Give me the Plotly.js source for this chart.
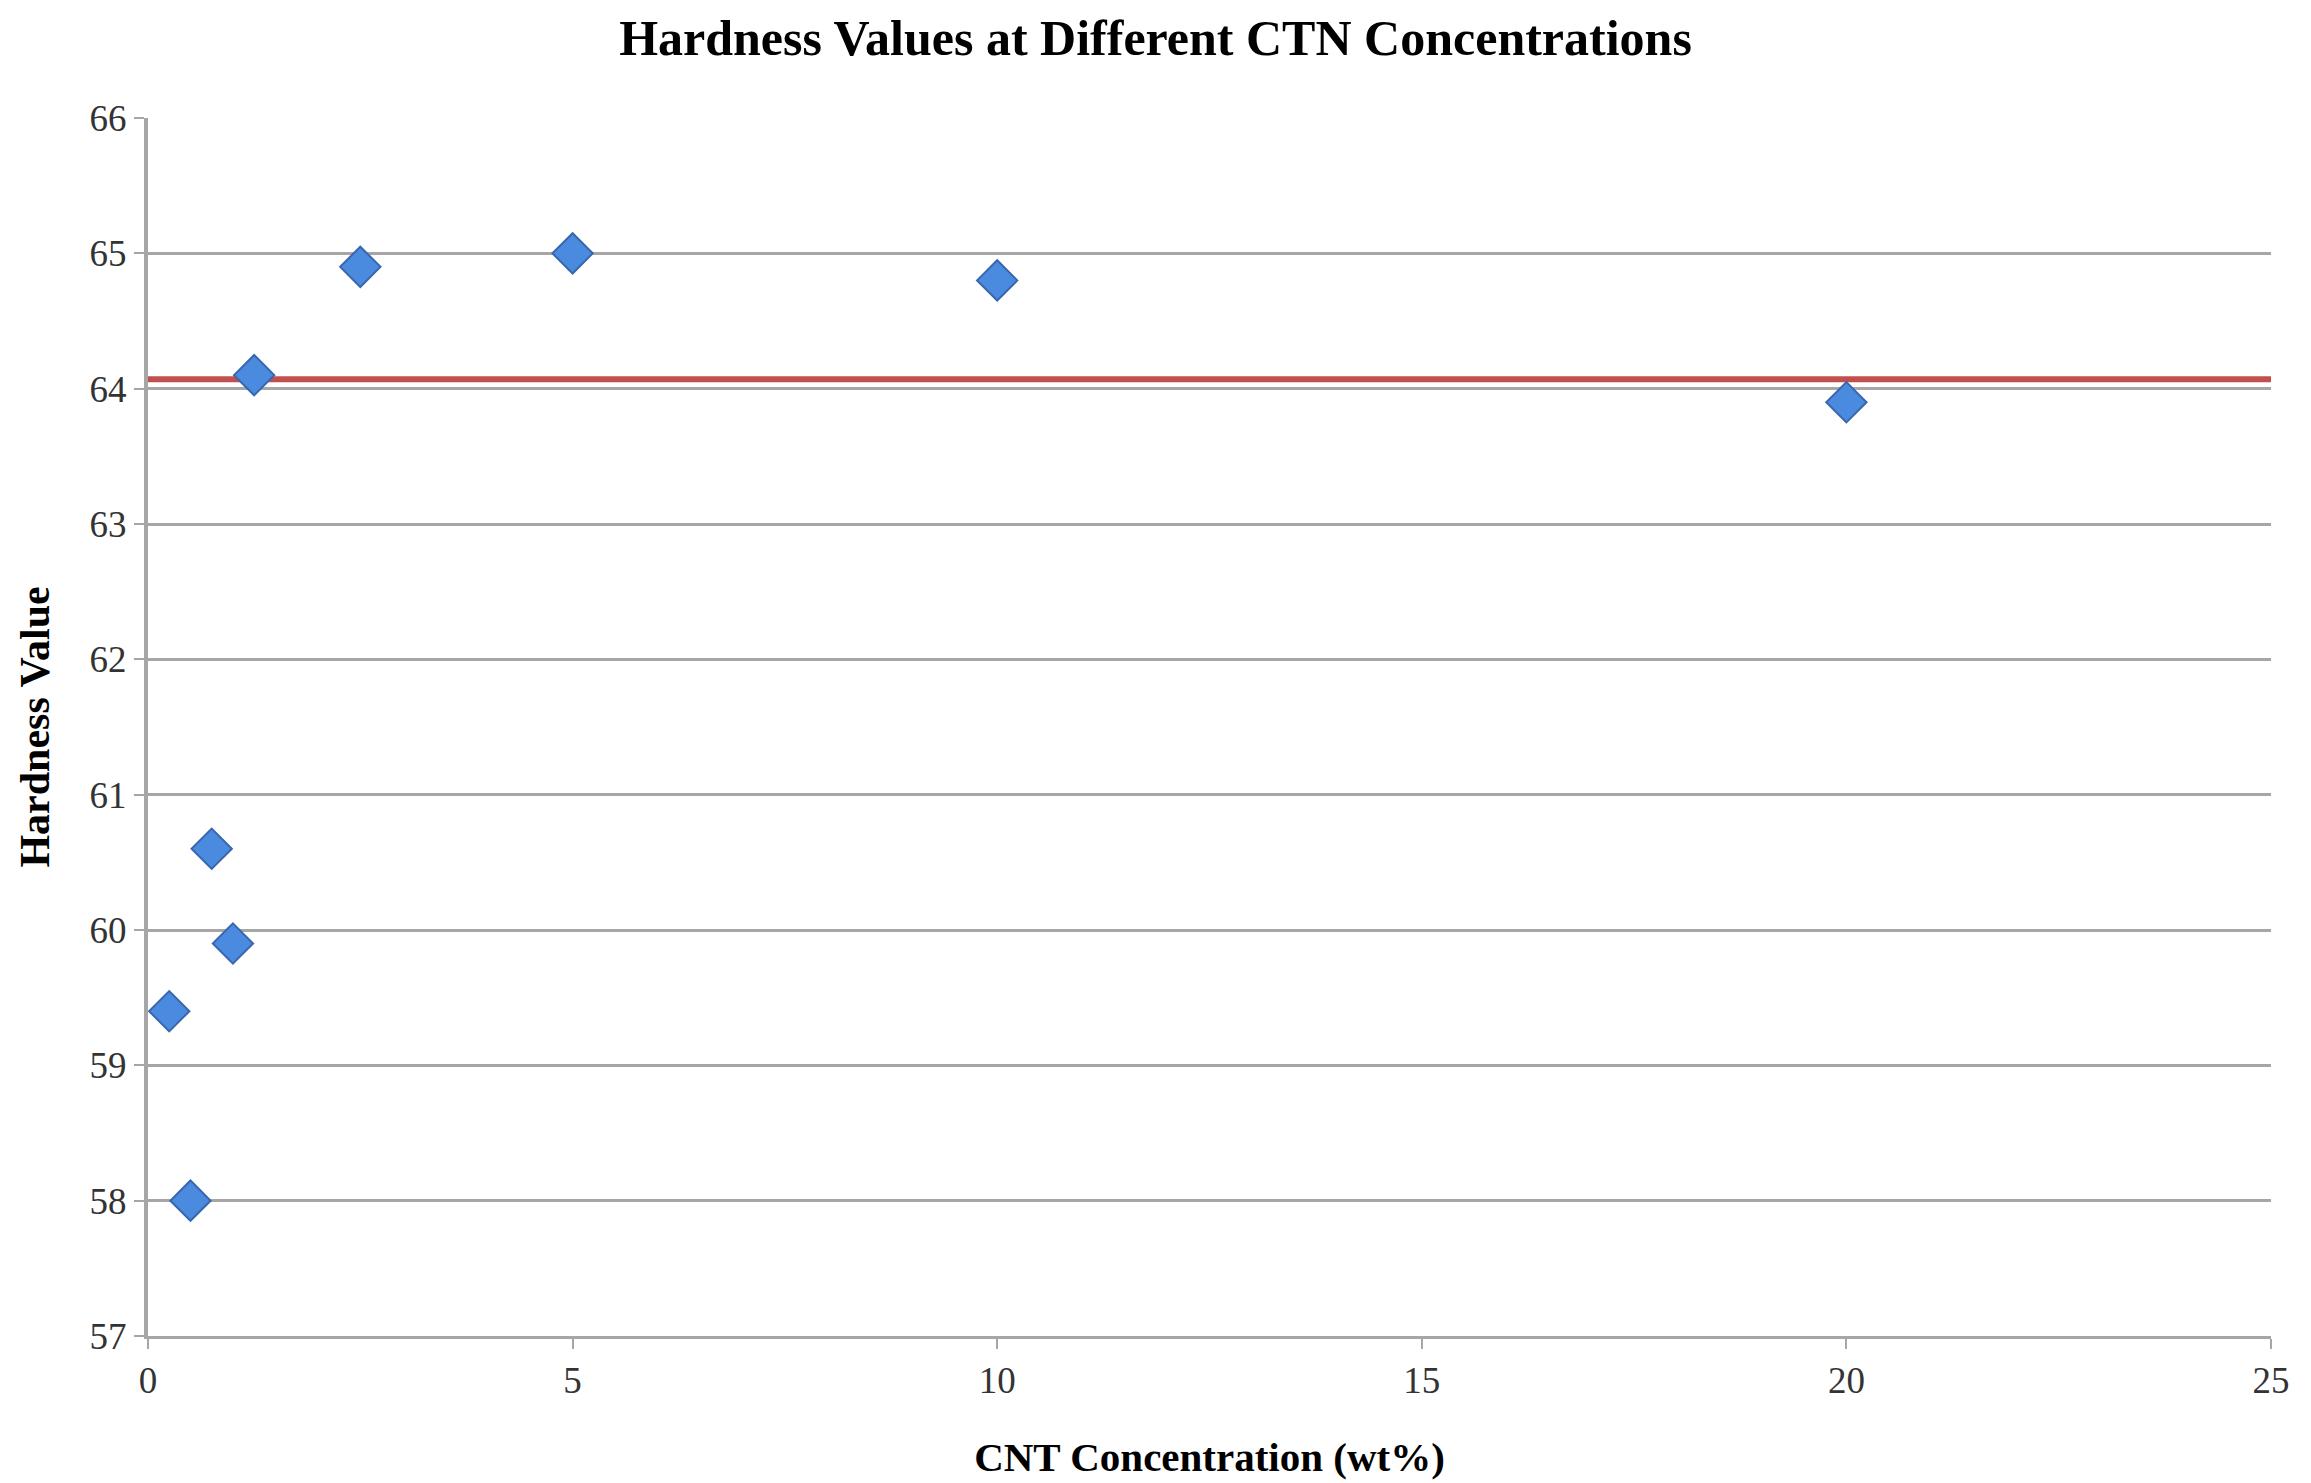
<!DOCTYPE html>
<html>
<head>
<meta charset="utf-8">
<script src="https://cdn.plot.ly/plotly-3.0.1.min.js"></script>
<style>html,body{margin:0;padding:0;background:#fff;}#chart{width:2311px;height:1483px;}</style>
</head>
<body>
<div id="chart"></div>
<script>
const concentration = [0.25, 0.5, 0.75, 1.0, 1.25, 2.5, 5, 10, 20];
const hardness = [59.4, 58.0, 60.6, 59.9, 64.1, 64.9, 65.0, 64.8, 63.9];
const refLineX = [0, 25.2];
const refLineY = [64.07, 64.07];
const xTicks = [0, 5, 10, 15, 20, 25];
const yTicks = [57, 58, 59, 60, 61, 62, 63, 64, 65, 66];

const font = "Liberation Serif, Times New Roman, serif";

const traces = [
  {
    x: refLineX, y: refLineY, mode: 'lines', type: 'scatter',
    line: {color: '#C0504D', width: 6}, cliponaxis: false, hoverinfo: 'skip', showlegend: false
  },
  {
    x: concentration, y: hardness, mode: 'markers', type: 'scatter',
    marker: {symbol: 'diamond', size: 31, color: '#4A8BE0', line: {color: '#3A66AE', width: 2}},
    cliponaxis: false, showlegend: false
  }
];

const layout = {
  width: 2311, height: 1483,
  paper_bgcolor: '#ffffff', plot_bgcolor: '#ffffff',
  margin: {l: 148, r: 40, t: 118, b: 147},
  title: {text: '<b>Hardness Values at Different CTN Concentrations</b>', font: {family: font, size: 50, color: '#000'}, x: 0.5, xanchor: 'center', y: 0.975, yanchor: 'middle'},
  xaxis: {
    range: [0, 25], tickvals: xTicks, ticktext: xTicks.map(String),
    showgrid: false, zeroline: false, showline: true, linecolor: '#A6A6A6', linewidth: 3,
    ticks: 'outside', ticklen: 10, tickwidth: 2, tickcolor: '#A6A6A6',
    tickfont: {family: font, size: 37, color: '#333'},
    title: {text: '<b>CNT Concentration (wt%)</b>', font: {family: font, size: 41, color: '#000'}, standoff: 42}
  },
  yaxis: {
    range: [57, 66], tickvals: yTicks, ticktext: yTicks.map(String),
    showgrid: true, gridcolor: '#A6A6A6', gridwidth: 3, zeroline: false,
    showline: true, linecolor: '#A6A6A6', linewidth: 4,
    ticks: 'outside', ticklen: 10, tickwidth: 2, tickcolor: '#A6A6A6',
    tickfont: {family: font, size: 37, color: '#333'},
    title: {text: '<b>Hardness Value</b>', font: {family: font, size: 42, color: '#000'}, standoff: 28}
  },
  showlegend: false
};

Plotly.newPlot('chart', traces, layout, {displayModeBar: false, staticPlot: true});
</script>
</body>
</html>
